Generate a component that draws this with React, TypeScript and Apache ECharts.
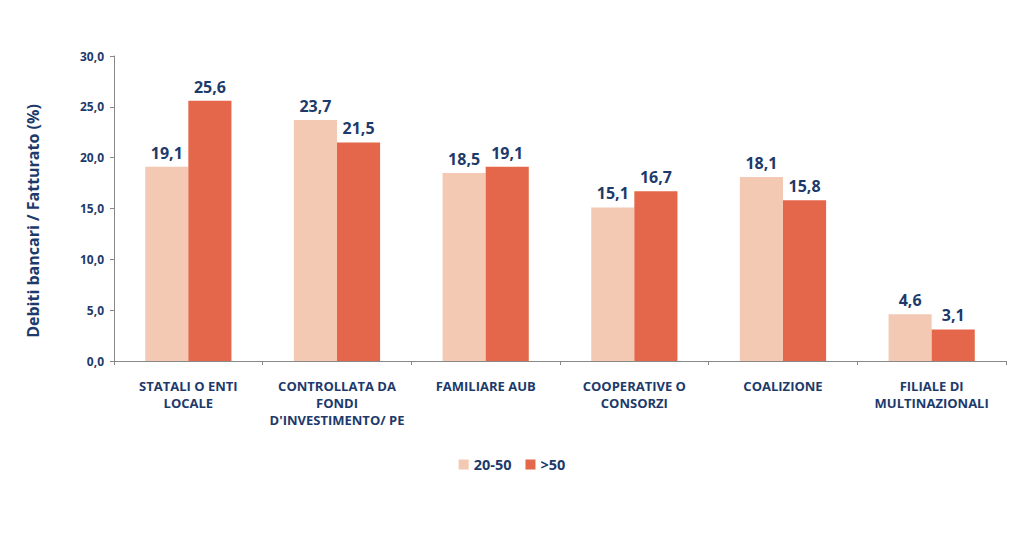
import React, { useEffect, useRef } from "react";
import * as echarts from "echarts";

const categories = [
  "STATALI O ENTI\nLOCALE",
  "CONTROLLATA DA\nFONDI\nD'INVESTIMENTO/ PE",
  "FAMILIARE AUB",
  "COOPERATIVE O\nCONSORZI",
  "COALIZIONE",
  "FILIALE DI\nMULTINAZIONALI",
];
const series2050 = [19.1, 23.7, 18.5, 15.1, 18.1, 4.6];
const seriesOver50 = [25.6, 21.5, 19.1, 16.7, 15.8, 3.1];
const seriesNames = ["20-50", ">50"];
const yAxisTitle = "Debiti bancari / Fatturato (%)";

const NAVY = "#1d3a6b";
const FONT = "'Open Sans', 'Noto Sans', sans-serif";

export default function App() {
  const ref = useRef<HTMLDivElement>(null);
  useEffect(() => {
    if (!ref.current) return;
    const chart = echarts.init(ref.current, null, { renderer: "svg" });
    const fmt = (v: number) => v.toFixed(1).replace(".", ",");
    const labelStyle = {
      show: true,
      position: "top",
      distance: 6,
      color: NAVY,
      fontSize: 16,
      fontWeight: "bold",
      fontFamily: FONT,
      formatter: (p: any) => fmt(p.value),
    };
    chart.setOption({
      animation: false,
      backgroundColor: "#ffffff",
      textStyle: { fontFamily: FONT },
      grid: { left: 114, right: 18, top: 56, bottom: 176, containLabel: false },
      legend: {
        data: seriesNames,
        bottom: 60,
        left: "center",
        itemWidth: 10,
        itemHeight: 10,
        itemGap: 14,
        icon: "rect",
        textStyle: { color: NAVY, fontSize: 14.5, fontWeight: "bold", fontFamily: FONT },
      },
      graphic: [
        {
          type: "text",
          x: 33,
          y: 221,
          rotation: Math.PI / 2,
          style: {
            text: yAxisTitle,
            fill: NAVY,
            font: `bold 16px ${FONT}`,
            align: "center",
            verticalAlign: "middle",
          },
        },
      ],
      xAxis: {
        type: "category",
        data: categories,
        axisLine: { lineStyle: { color: "#888888", width: 1 } },
        axisTick: { show: true, length: 4, lineStyle: { color: "#888888" } },
        axisLabel: {
          color: NAVY,
          fontSize: 13,
          fontWeight: "bold",
          fontFamily: FONT,
          margin: 16,
          lineHeight: 17,
          interval: 0,
        },
      },
      yAxis: {
        type: "value",
        min: 0,
        max: 30,
        interval: 5,
        axisLine: { show: true, lineStyle: { color: "#888888", width: 1 } },
        axisTick: { show: true, length: 4, lineStyle: { color: "#888888" } },
        splitLine: { show: false },
        axisLabel: {
          color: NAVY,
          fontSize: 12,
          fontWeight: "bold",
          fontFamily: FONT,
          margin: 10,
          formatter: (v: number) => fmt(v),
        },
      },
      series: [
        {
          name: seriesNames[0],
          type: "bar",
          data: series2050,
          barGap: "0%",
          barCategoryGap: "42%",
          itemStyle: { color: "#f3c9b4" },
          label: labelStyle,
        },
        {
          name: seriesNames[1],
          type: "bar",
          data: seriesOver50,
          barGap: "0%",
          barCategoryGap: "42%",
          itemStyle: { color: "#e5674b" },
          label: labelStyle,
        },
      ],
    });
    return () => chart.dispose();
  }, []);
  return <div ref={ref} style={{ width: 1024, height: 537, margin: -8 }} />;
}
